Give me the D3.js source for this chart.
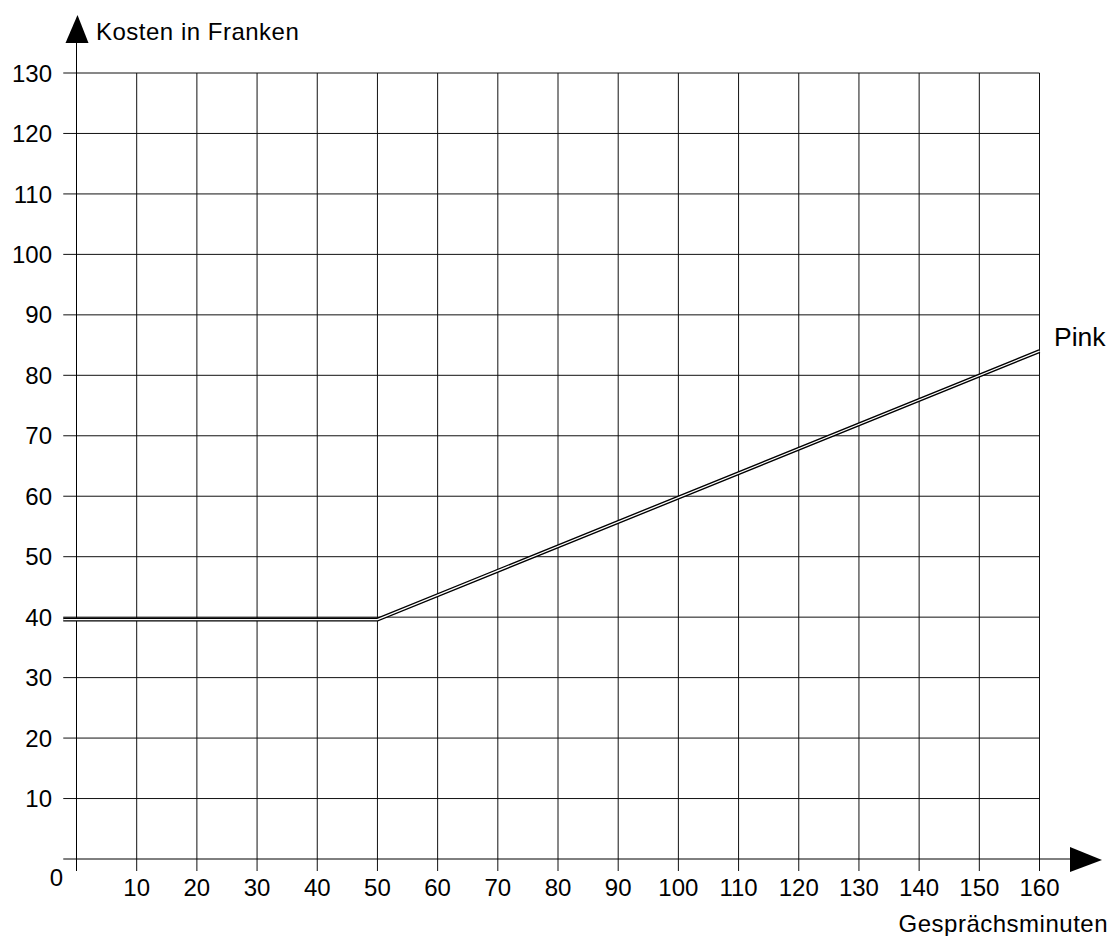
<html>
<head>
<script src="https://d3js.org/d3.v7.min.js"></script>
<style>
  body { margin: 0; background: #fff; }
  text { font-family: "Liberation Sans", Arial, sans-serif; fill: #000; }
</style>
</head>
<body>
<div id="chart"></div>
<script>
// data
const xTicks = [10, 20, 30, 40, 50, 60, 70, 80, 90, 100, 110, 120, 130, 140, 150, 160];
const yTicks = [10, 20, 30, 40, 50, 60, 70, 80, 90, 100, 110, 120, 130];
const pinkMinutes = [-2.2, 50, 160];
const pinkCost = [39.6, 39.6, 84];
const seriesName = "Pink";
const xTitle = "Gesprächsminuten";
const yTitle = "Kosten in Franken";

const W = 1112, H = 936;

const svg = d3.select("#chart").append("svg")
  .attr("width", W).attr("height", H);

const x = d3.scaleLinear().domain([0, 160]).range([76.5, 1039.5]);
const y = d3.scaleLinear().domain([0, 130]).range([859, 73]);

const xLeft = x(-2.2);   // grid lines run a bit past the y axis
const tickLen = 12;      // vertical lines hang below the x axis

// horizontal grid
svg.append("g").selectAll("line")
  .data(yTicks).enter().append("line")
  .attr("x1", xLeft).attr("x2", x(160))
  .attr("y1", d => y(d)).attr("y2", d => y(d))
  .attr("stroke", "#111").attr("stroke-width", 1);

// vertical grid
svg.append("g").selectAll("line")
  .data(xTicks).enter().append("line")
  .attr("x1", d => x(d)).attr("x2", d => x(d))
  .attr("y1", y(130)).attr("y2", y(0) + tickLen)
  .attr("stroke", "#111").attr("stroke-width", 1);

// x axis with arrow
svg.append("line")
  .attr("x1", xLeft).attr("x2", 1072)
  .attr("y1", y(0)).attr("y2", y(0))
  .attr("stroke", "#000").attr("stroke-width", 1);
svg.append("path")
  .attr("d", `M1070,${y(0) - 12} L1102,${y(0) + 1} L1070,${y(0) + 13} Z`)
  .attr("fill", "#000");

// y axis with arrow
svg.append("line")
  .attr("x1", x(0)).attr("x2", x(0))
  .attr("y1", y(0) + tickLen).attr("y2", 42)
  .attr("stroke", "#000").attr("stroke-width", 1);
svg.append("path")
  .attr("d", `M${x(0) - 11},43 L${x(0) + 1},15 L${x(0) + 12},43 Z`)
  .attr("fill", "#000");

// tick labels
svg.append("g").selectAll("text")
  .data(yTicks).enter().append("text")
  .attr("x", 52).attr("y", d => y(d) + 8.6)
  .attr("text-anchor", "end")
  .style("font-size", "24px")
  .text(d => d);

svg.append("g").selectAll("text")
  .data(xTicks).enter().append("text")
  .attr("x", d => x(d)).attr("y", 896)
  .attr("text-anchor", "middle")
  .style("font-size", "24px")
  .text(d => d);

svg.append("text")
  .attr("x", 63).attr("y", 886)
  .attr("text-anchor", "end")
  .style("font-size", "24px")
  .text("0");

// axis titles
svg.append("text")
  .attr("x", 96).attr("y", 40)
  .style("font-size", "24px")
  .style("letter-spacing", "0.5px")
  .text(yTitle);

svg.append("text")
  .attr("x", 1108).attr("y", 932)
  .attr("text-anchor", "end")
  .style("font-size", "24px")
  .style("letter-spacing", "0.5px")
  .text(xTitle);

// the double line
const line = d3.line()
  .x((d, i) => x(pinkMinutes[i]))
  .y(d => y(d));

svg.append("path")
  .datum(pinkCost)
  .attr("d", line)
  .attr("fill", "none")
  .attr("stroke", "#000")
  .attr("stroke-width", 4);
svg.append("path")
  .datum(pinkCost)
  .attr("d", line)
  .attr("fill", "none")
  .attr("stroke", "#fff")
  .attr("stroke-width", 1.3);

svg.append("text")
  .attr("x", 1054).attr("y", 345.5)
  .style("font-size", "26.5px")
  .text(seriesName);
</script>
</body>
</html>
